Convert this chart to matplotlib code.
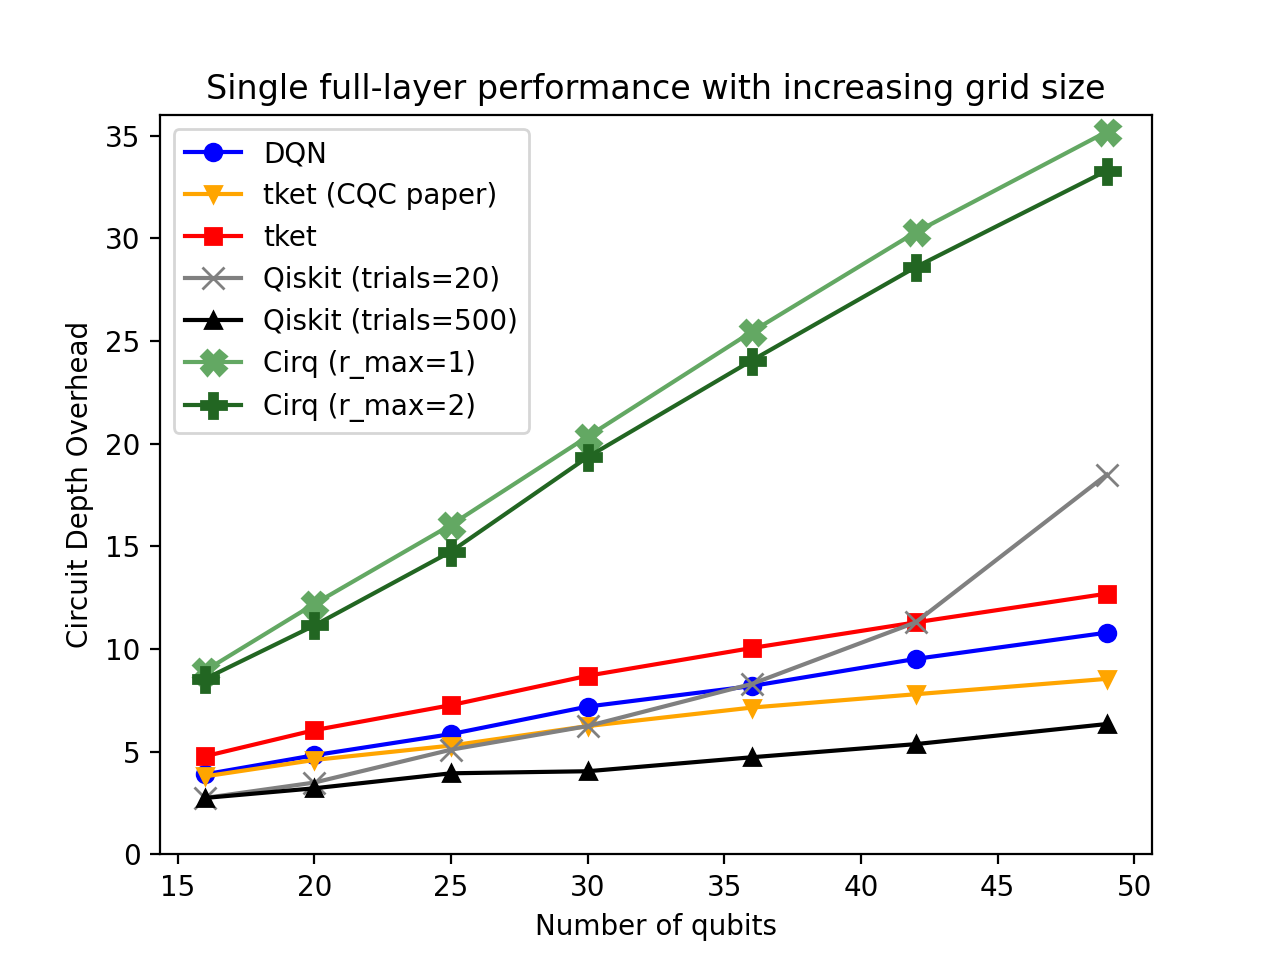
import matplotlib
matplotlib.use('Agg')
import matplotlib.pyplot as plt

qubits = [16, 20, 25, 30, 36, 42, 49]

dqn = [3.9, 4.83, 5.86, 7.2, 8.2, 9.52, 10.8]
tket_cqc = [3.8, 4.6, 5.3, 6.25, 7.15, 7.8, 8.55]
tket = [4.78, 6.05, 7.27, 8.7, 10.05, 11.3, 12.7]
qiskit_20 = [2.75, 3.5, 5.1, 6.25, 8.3, 11.3, 18.5]
qiskit_500 = [2.75, 3.22, 3.95, 4.05, 4.73, 5.37, 6.35]
cirq_r1 = [8.95, 12.2, 16.05, 20.35, 25.45, 30.3, 35.2]
cirq_r2 = [8.55, 11.15, 14.75, 19.35, 24.05, 28.6, 33.3]

fig, ax = plt.subplots(figsize=(6.4, 4.8), dpi=200)

ax.plot(qubits, dqn, marker='o', color='blue', label='DQN')
ax.plot(qubits, tket_cqc, marker='v', color='orange', label='tket (CQC paper)')
ax.plot(qubits, tket, marker='s', color='red', label='tket')
ax.plot(qubits, qiskit_20, marker='x', markersize=8, color='gray', label='Qiskit (trials=20)')
ax.plot(qubits, qiskit_500, marker='^', color='black', label='Qiskit (trials=500)')
ax.plot(qubits, cirq_r1, marker='X', markersize=9, color='#63a863', label='Cirq (r_max=1)')
ax.plot(qubits, cirq_r2, marker='P', markersize=9, color='#226622', label='Cirq (r_max=2)')

ax.set_ylim(0, 36)
ax.set_xlabel('Number of qubits')
ax.set_ylabel('Circuit Depth Overhead')
ax.set_title('Single full-layer performance with increasing grid size')
ax.legend(loc='upper left')

plt.savefig('out.png')
